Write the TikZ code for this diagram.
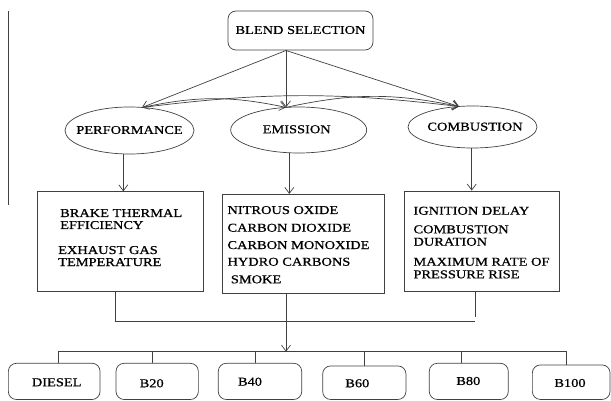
\documentclass[tikz,border=0pt]{standalone}
\usepackage{fontspec}
\setmainfont{Liberation Serif}[FakeStretch=1.2,FakeBold=0.8]
\usetikzlibrary{shapes.geometric,arrows.meta}
\begin{document}
\begin{tikzpicture}[x=1pt,y=-1pt,
  ln/.style={draw=black!75, line width=0.7pt},
  arr/.style={ln, -{Straight Barb[length=6pt,width=9pt]}},
  tx/.style={font=\fontsize{12}{12.5}\selectfont, inner sep=0pt},
  lt/.style={tx, anchor=base west},
  rbox/.style={ln, rounded corners=8pt, inner sep=0pt},
  ell/.style={ln, ellipse, inner sep=0pt},
  sbox/.style={ln, inner sep=0pt}]
\useasboundingbox (0,0) rectangle (611,401);

% stray left rule
\coordinate (l1) at (8,11);
\coordinate (l2) at (8,205);
\draw[ln] (l1) -- (l2);

% top
\node[rbox, minimum width=145, minimum height=39] (blend) at (300.5,30.5) {};
\node[tx] (blendt) at (300.5,30) {BLEND SELECTION};

% ellipses
\node[ell, minimum width=129, minimum height=47] (perf) at (129.5,130.5) {};
\node[ell, minimum width=136, minimum height=46] (emi) at (298.7,130) {};
\node[ell, minimum width=129, minimum height=42] (comb) at (472.5,127) {};
\node[tx] (perft) at (129.5,130) {PERFORMANCE};
\node[tx] (emit) at (296.7,129.3) {EMISSION};
\node[tx] (combt) at (475,126.7) {COMBUSTION};

\coordinate (bs) at (286,50.5);
\coordinate (pT) at (142,107.5);
\coordinate (eT) at (286,107.4);
\coordinate (cT) at (459,106.5);
\draw[arr] (bs) -- (pT);
\draw[arr] (bs) -- (eT);
\draw[arr] (bs) -- (cT);
\draw[arr] (pT) to[bend left=12] (eT);
\draw[arr] (eT) to[bend left=12] (cT);
\draw[arr] (pT) to[bend left=7] (cT);

% middle boxes
\node[sbox, minimum width=166, minimum height=100] (box1) at (120,241.7) {};
\node[sbox, minimum width=161.3, minimum height=99] (box2) at (303.3,243.8) {};
\node[sbox, minimum width=155.3, minimum height=100.7] (box3) at (481.7,241.3) {};

\draw[arr] ([xshift=-6.2]perf.south) -- ([xshift=-6.2]perf.south |- box1.north);
\draw[arr] ([xshift=-9.4]emi.south) -- ([xshift=-9.4]emi.south |- box2.north);
\draw[arr] ([xshift=-0.8]comb.south) -- ([xshift=-0.8]comb.south |- box3.north);

\node[lt] (a1) at (60,217) {BRAKE THERMAL};
\node[lt] (a2) at (60,229) {EFFICIENCY};
\node[lt] (a3) at (58,254) {EXHAUST GAS};
\node[lt] (a4) at (58,266) {TEMPERATURE};

\node[lt] (e1) at (227.3,214) {NITROUS OXIDE};
\node[lt] (e2) at (227.3,231.7) {CARBON DIOXIDE};
\node[lt] (e3) at (227.3,249) {CARBON MONOXIDE};
\node[lt] (e4) at (227.3,265.7) {HYDRO CARBONS};
\node[lt] (e5) at (230.7,283.3) {SMOKE};

\node[lt] (c1) at (413.3,214.7) {IGNITION DELAY};
\node[lt] (c2) at (413.3,233.3) {COMBUSTION};
\node[lt] (c3) at (413.3,245.7) {DURATION};
\node[lt] (c4) at (413.3,265.7) {MAXIMUM RATE OF};
\node[lt] (c5) at (413.3,278.3) {PRESSURE RISE};

% collecting lines
\coordinate (hr) at (475,321.5);
\draw[ln] ([xshift=-4.3]box1.south) |- (hr);
\draw[ln] ([xshift=-6.7]box3.south) -- ++(0,25);
\coordinate (bus) at (286,351.7);
\draw[arr] ([xshift=-17.3]box2.south) -- (bus);

% bottom boxes
\node[rbox, minimum width=91.7, minimum height=36.2] (b1) at (54.2,381.4) {};
\node[rbox, minimum width=82.3, minimum height=36.2] (b2) at (157.2,381.4) {};
\node[rbox, minimum width=83.4, minimum height=36.2] (b3) at (260,381.4) {};
\node[rbox, minimum width=83.3, minimum height=33.5] (b4) at (364.3,382.7) {};
\node[rbox, minimum width=79, minimum height=36.2] (b5) at (468.8,381.4) {};
\node[rbox, minimum width=77.7, minimum height=34.5] (b6) at (571.2,382.2) {};

\node[tx] (t1l) at (56.7,382.3) {DIESEL};
\node[tx] (t2l) at (151.7,383.3) {B20};
\node[tx] (t3l) at (250,381.7) {B40};
\node[tx] (t4l) at (357.3,383.3) {B60};
\node[tx] (t5l) at (468.3,381) {B80};
\node[tx] (t6l) at (570,383) {B100};

\coordinate (d1) at (58.3,351.7);
\coordinate (d2) at (152.7,351.7);
\coordinate (d3) at (255,351.7);
\coordinate (d4) at (364,351.7);
\coordinate (d5) at (461.7,351.7);
\coordinate (d6) at (566.7,351.7);
\draw[ln] (d1) -- (d6);
\draw[ln] (d1) -- (d1 |- b1.north);
\draw[ln] (d2) -- (d2 |- b2.north);
\draw[ln] (d3) -- (d3 |- b3.north);
\draw[ln] (d4) -- (d4 |- b4.north);
\draw[ln] (d5) -- (d5 |- b5.north);
\draw[ln] (d6) -- (d6 |- b6.north);
\end{tikzpicture}
\end{document}
